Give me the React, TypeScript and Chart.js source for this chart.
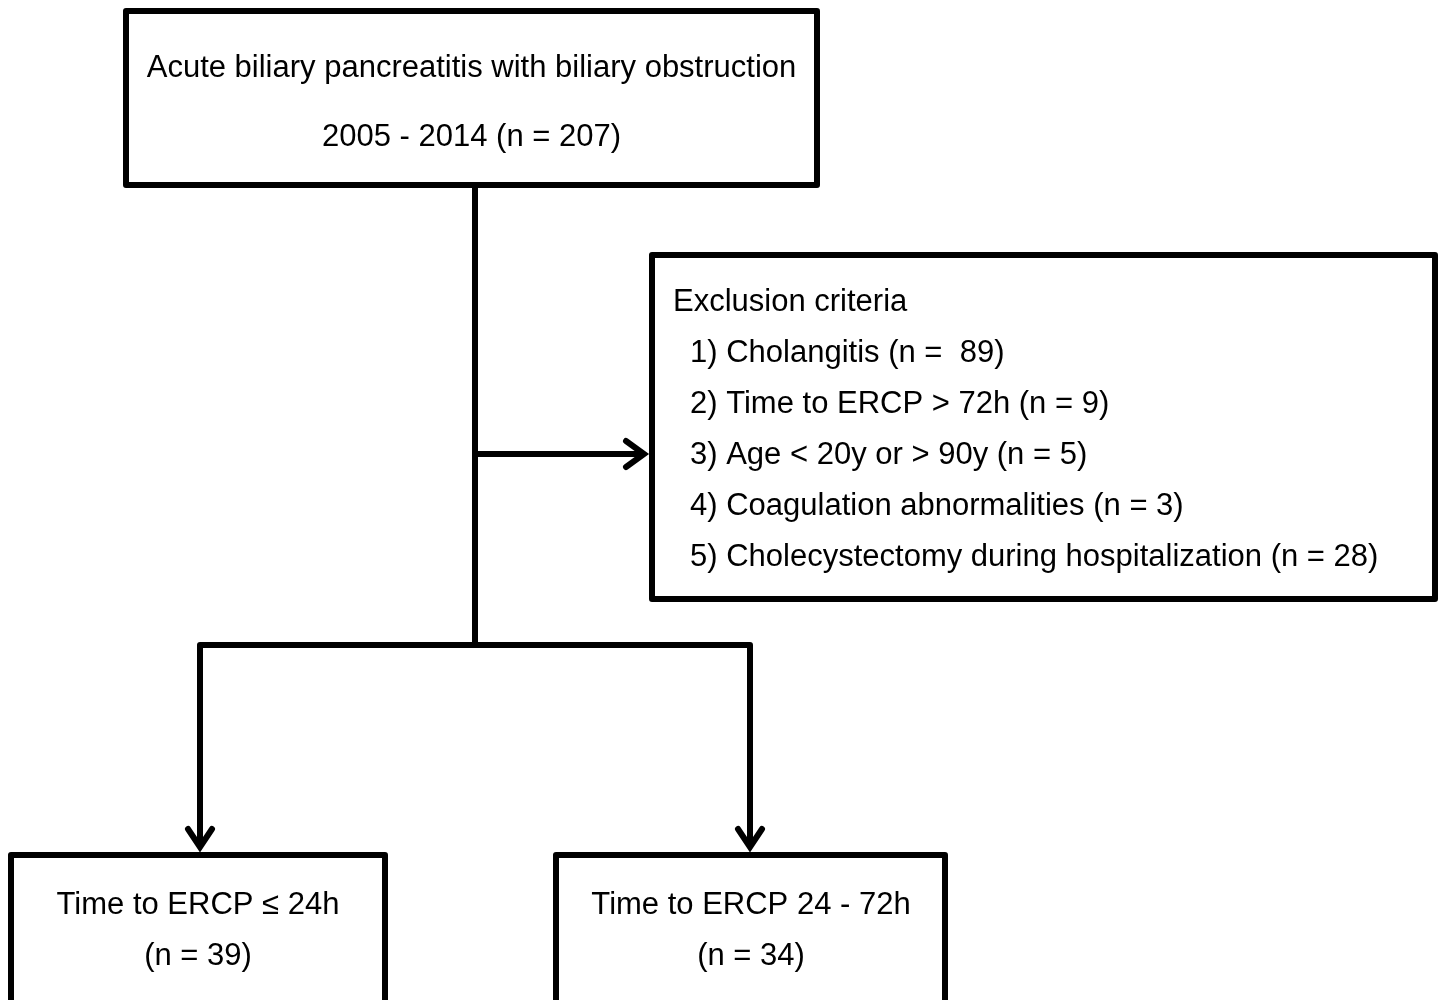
import React, { useEffect, useRef } from "react";
import { Chart, registerables } from "chart.js";

Chart.register(...registerables);

// ---- Content (text & counts) ----
const sourceTitle = "Acute biliary pancreatitis with biliary obstruction";
const sourcePeriod = "2005 - 2014";
const sourceCount = 207;

const exclusionTitle = "Exclusion criteria";
const exclusionReasons = [
  "Cholangitis",
  "Time to ERCP > 72h",
  "Age < 20y or > 90y",
  "Coagulation abnormalities",
  "Cholecystectomy during hospitalization",
];
const exclusionCounts = [89, 9, 5, 3, 28];

const groupLabels = ["Time to ERCP \u2264 24h", "Time to ERCP 24 - 72h"];
const groupCounts = [39, 34];

const FONT = '"Liberation Sans", Arial, sans-serif';

const flowPlugin = {
  id: "flow",
  afterDraw(chart: any) {
    const ctx = chart.ctx as CanvasRenderingContext2D;
    const xs = chart.scales.x;
    const ys = chart.scales.y;
    const X = (v: number) => xs.getPixelForValue(v);
    const Y = (v: number) => ys.getPixelForValue(v);

    ctx.save();
    ctx.strokeStyle = "#000";
    ctx.fillStyle = "#000";
    ctx.lineWidth = 6;
    ctx.lineJoin = "round";
    ctx.lineCap = "butt";

    const box = (x0: number, y0: number, x1: number, y1: number) => {
      ctx.beginPath();
      ctx.rect(X(x0), Y(y0), X(x1) - X(x0), Y(y1) - Y(y0));
      ctx.stroke();
    };
    const line = (pts: number[][]) => {
      ctx.beginPath();
      pts.forEach(([a, b], i) => (i ? ctx.lineTo(X(a), Y(b)) : ctx.moveTo(X(a), Y(b))));
      ctx.stroke();
    };
    const chevron = (pts: number[][]) => {
      ctx.save();
      ctx.lineCap = "round";
      ctx.lineJoin = "miter";
      line(pts);
      ctx.restore();
    };

    // Boxes
    box(126, 11, 817, 185);
    box(652, 255, 1435, 599);
    box(11, 855, 385, 1010);
    box(556, 855, 945, 1010);

    // Connectors
    line([[475, 185], [475, 645]]);
    line([[475, 454], [643, 454]]);
    chevron([[626, 441], [644, 454], [626, 467]]);
    line([[200, 848], [200, 645], [750, 645], [750, 848]]);
    chevron([[188, 829], [200, 847], [212, 829]]);
    chevron([[738, 829], [750, 847], [762, 829]]);

    // Text
    ctx.font = `31px ${FONT}`;
    ctx.textBaseline = "middle";
    ctx.textAlign = "center";
    ctx.fillText(sourceTitle, X(471.5), Y(68));
    ctx.fillText(`${sourcePeriod} (n = ${sourceCount})`, X(471.5), Y(137));

    ctx.textAlign = "left";
    ctx.fillText(exclusionTitle, X(673), Y(302));
    exclusionReasons.forEach((r, i) => {
      const gap = i === 0 ? "  " : " ";
      ctx.fillText(`${i + 1}) ${r} (n =${gap}${exclusionCounts[i]})`, X(690), Y(353 + i * 51));
    });

    ctx.textAlign = "center";
    const groupCenters = [198, 751];
    groupLabels.forEach((g, i) => {
      ctx.fillText(g, X(groupCenters[i]), Y(905));
      ctx.fillText(`(n = ${groupCounts[i]})`, X(groupCenters[i]), Y(956));
    });

    ctx.restore();
  },
};

export default function App() {
  const ref = useRef<HTMLCanvasElement | null>(null);
  useEffect(() => {
    document.body.style.margin = "0";
    const canvas = ref.current!;
    const chart = new Chart(canvas, {
      type: "scatter",
      data: { datasets: [] },
      options: {
        animation: false,
        responsive: false,
        devicePixelRatio: 1,
        layout: { padding: 0 },
        plugins: { legend: { display: false }, tooltip: { enabled: false } },
        scales: {
          x: { type: "linear", min: 0, max: 1440, display: false },
          y: { type: "linear", min: 0, max: 1000, reverse: true, display: false },
        },
      },
      plugins: [flowPlugin],
    });
    return () => chart.destroy();
  }, []);
  return (
    <div style={{ background: "#fff", width: 1440, height: 1000 }}>
      <canvas ref={ref} width={1440} height={1000} style={{ display: "block" }} />
    </div>
  );
}
